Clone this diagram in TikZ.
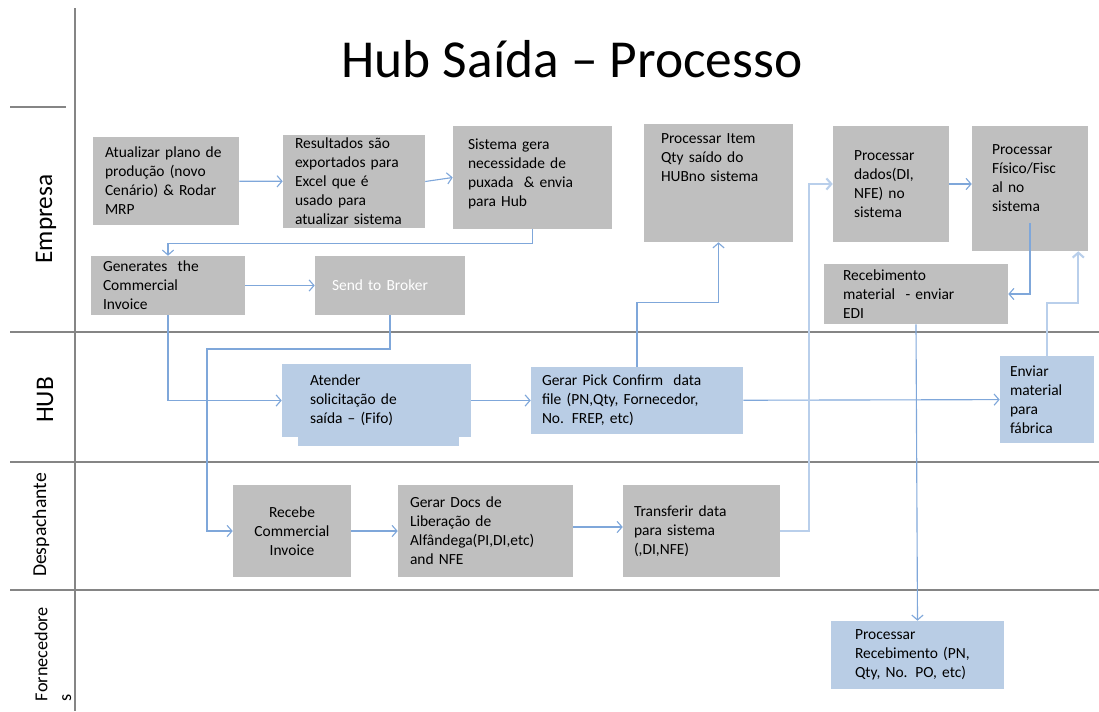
\documentclass[tikz,border=0pt]{standalone}
\usepackage{fontspec}
\setmainfont{Carlito}
\usepackage{tikz}
\usetikzlibrary{arrows.meta,positioning}
\definecolor{boxgray}{HTML}{BFBFBF}
\definecolor{hubblue}{HTML}{B9CDE5}
\definecolor{flowblue}{HTML}{7FA7DA}
\definecolor{lanegray}{HTML}{858585}
\tikzset{
  lane/.style={draw=lanegray, line width=1.3pt},
  lanename/.style={rotate=90, font=\fontsize{18}{21}\selectfont},
  stepbox/.style n args={3}{fill=boxgray, align=left, inner ysep=0pt,
    font=\fontsize{11}{13.5}\selectfont,
    minimum width=#1*0.025cm, minimum height=#2*0.025cm,
    inner xsep=#3*0.025cm, text width=(#1-2*#3)*0.025cm},
  hubbox/.style={fill=hubblue},
  topfill/.style={execute at end node={\par\vspace{#1}}},
  flow/.style={draw=flowblue, line width=0.8pt, -{Straight Barb[length=3.5pt,width=8pt]}},
  flowpale/.style={flow, draw=flowblue!55, line width=1.5pt},
}

\begin{document}
\begin{tikzpicture}[x=0.025cm, y=-0.025cm]
\useasboundingbox (0,0) rectangle (1099,711);

% lanes
\draw[lane] (75,8) -- (75,711);
\draw[lane] (10,107) -- (66,107);
\draw[lane] (10,332) -- (1099,332);
\draw[lane] (10,462) -- (1099,462);
\draw[lane] (10,590) -- (1099,590);
\node[lanename] (empresa) at (46,219) {Empresa};
\node[lanename] (hub) at (45,400) {HUB};
\node[lanename, font=\fontsize{14}{17}\selectfont] (despachante) at (41,525) {Despachante};
\node[lanename, font=\fontsize{13}{17}\selectfont, align=left] (fornecedores) at (53,654) {Fornecedore\\s};

\node[anchor=base, font=\fontsize{38}{44}\selectfont] (title) at (572,77) {Hub Saída – Processo};

% Empresa
\node[stepbox={146}{88}{12}] (plano) at (166,181) {Atualizar plano de\\produção (novo\\Cenário) \& Rodar\\MRP};
\node[stepbox={142}{93}{12}] (excel) at (354,181.5) {Resultados são\\exportados para\\Excel que é\\usado para\\atualizar sistema};
\node[stepbox={159}{103}{15}, topfill=0.2cm] (puxada) at (532.5,177.5) {Sistema gera\\necessidade de\\puxada\ \ \& envia\\para Hub};
\node[stepbox={149}{118}{17}, topfill=1.25cm] (item) at (718.5,183) {Processar Item\\Qty saído do\\HUBno sistema};
\node[stepbox={116}{116}{21}] (dados) at (891,184) {Processar\\dados(DI,\\NFE) no\\sistema};
\node[stepbox={116}{125}{20}, topfill=0.5cm] (fisico) at (1030,188.5) {Processar\\Físico/Fisc\\al no\\sistema};
\node[stepbox={184}{60}{19}] (edi) at (916,294) {Recebimento\\material\ \ - enviar\\EDI};
\node[stepbox={154}{59}{12}] (invoice) at (168,285.5) {Generates\ \ the\\Commercial\\Invoice};
\node[stepbox={150}{59}{17}, text=white] (broker) at (390,285.5) {Send to Broker};

% HUB
\node[stepbox={189}{73}{28}, hubbox] (atender) at (376.5,400.5) {Atender\\solicitação de\\saída – (Fifo)};
\fill[hubblue] ([xshift=0.4cm]atender.south west) rectangle ([xshift=-0.3cm,yshift=-0.225cm]atender.south east);
\node[stepbox={212}{67}{11}, hubbox] (pick) at (637,400.5) {Gerar Pick Confirm\ \ data\\file (PN,Qty, Fornecedor,\\No. FREP, etc)};
\node[stepbox={94}{87}{10}, hubbox] (enviar) at (1047,399.5) {Enviar\\material\\para\\fábrica};

% Despachante
\node[stepbox={118}{92}{10}, align=center] (recebe) at (292,531) {Recebe\\Commercial\\Invoice};
\node[stepbox={175}{92}{12}] (docs) at (485.5,531) {Gerar Docs de\\Liberação de\\Alfândega(PI,DI,etc)\\and NFE};
\node[stepbox={157}{92}{11}] (transferir) at (701.5,531) {Transferir data\\para sistema\\(,DI,NFE)};

% Fornecedores
\node[stepbox={173}{68}{24}, hubbox] (recebimento) at (917.5,655) {Processar\\Recebimento (PN,\\Qty, No. PO, etc)};

% flow
\coordinate (brk) at (207,349);
\draw[flow] (plano) -- (excel);
\draw[flow] (excel.east) -- (puxada.west);
\draw[flow] (puxada.south) -- ++(0,14) -| (invoice.north);
\draw[flow] (invoice) -- (broker);
\draw[flow] (invoice.south) |- (atender.west);
\draw[flow] (broker.south) |- (brk) |- (recebe.west);
\draw[flow] (atender) -- (pick);
\draw[flow] (pick.north) -- ++(0,-64) -| (item.south);
\draw[flow] (pick) -- (enviar);
\draw[flow] (recebe) -- (docs);
\draw[flow] ([yshift=0.1cm]docs.east) -- ([yshift=0.1cm]transferir.west);
\draw[flowpale] (transferir.east) -- ++(29,0) |- (dados.west);
\draw[flow] (dados.east) -- (dados.east -| fisico.west);
\draw[flow] ([yshift=0.7cm]fisico.south) |- (edi.east);
\draw[flowpale] (enviar.north) -- ++(0,-53) -| ([xshift=-0.25cm]fisico.south east);
\draw[flow] (edi.south) -- (recebimento.north);
\end{tikzpicture}
\end{document}
